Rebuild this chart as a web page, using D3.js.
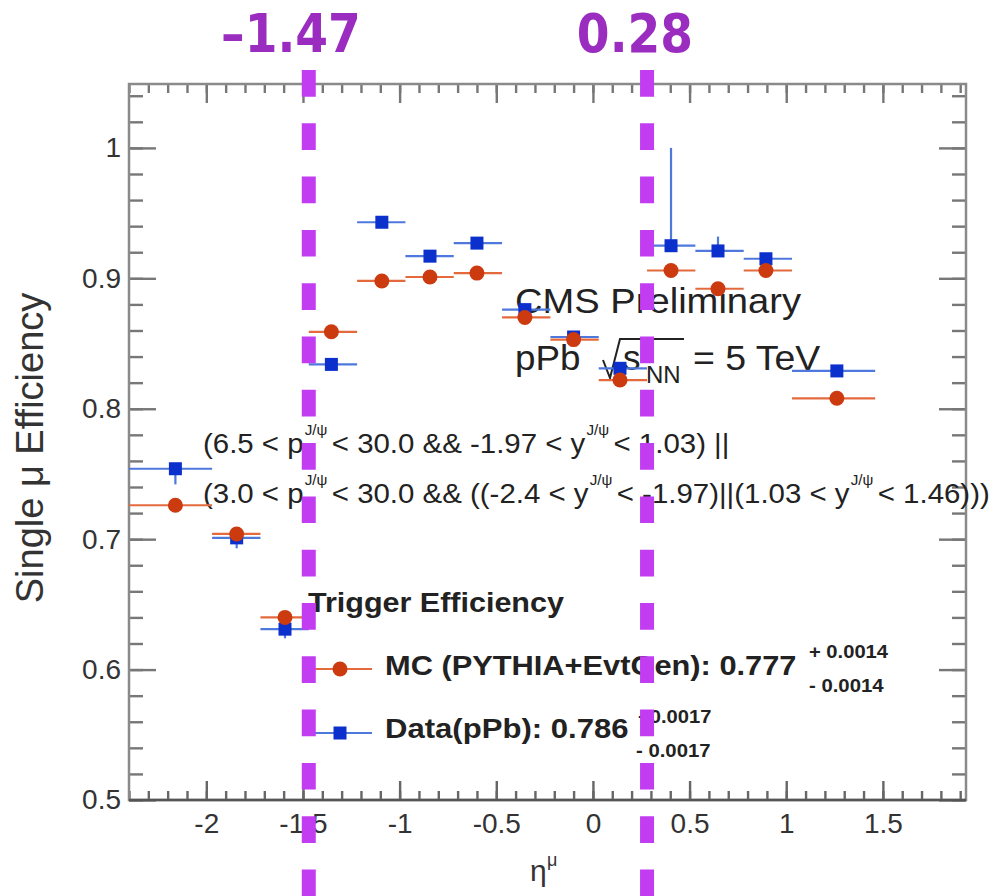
<!DOCTYPE html>
<html><head><meta charset="utf-8">
<script src="https://cdn.jsdelivr.net/npm/d3@7"></script>
<style>
html,body{margin:0;padding:0;background:#fff;}
svg{display:block;}
text{font-family:"Liberation Sans",Arial,Helvetica,sans-serif;white-space:pre;}
</style></head><body>
<svg id="chart" width="990" height="896"></svg>
<script>
// η bins: lower / upper edges and the marker position inside each bin
const etaLow  = [-2.4, -1.97, -1.72, -1.47, -1.22, -0.97, -0.72, -0.47, -0.22, 0.03, 0.28, 0.53, 0.78, 1.03];
const etaHigh = [-1.97, -1.72, -1.47, -1.22, -0.97, -0.72, -0.47, -0.22, 0.03, 0.28, 0.53, 0.78, 1.03, 1.46];
const etaMean = [-2.16, -1.843, -1.593, -1.353, -1.092, -0.843, -0.60, -0.352, -0.10, 0.14, 0.404, 0.647, 0.895, 1.262];

// MC (PYTHIA+EvtGen) single muon efficiency
const mcEff    = [0.726, 0.704, 0.640, 0.859, 0.898, 0.901, 0.904, 0.870, 0.853, 0.822, 0.906, 0.892, 0.906, 0.808];
const mcErr    = [0.003, 0.003, 0.003, 0.002, 0.002, 0.002, 0.002, 0.002, 0.002, 0.002, 0.002, 0.002, 0.002, 0.002];

// pPb data single muon efficiency with asymmetric errors
const dataEff     = [0.754, 0.701, 0.631, 0.834, 0.943, 0.917, 0.927, 0.876, 0.855, 0.831, 0.925, 0.921, 0.915, 0.829];
const dataErrLow  = [0.012, 0.008, 0.007, 0.003, 0.003, 0.003, 0.003, 0.003, 0.003, 0.003, 0.004, 0.004, 0.003, 0.003];
const dataErrHigh = [0.004, 0.004, 0.004, 0.003, 0.003, 0.003, 0.003, 0.003, 0.003, 0.003, 0.075, 0.011, 0.004, 0.003];

// axis ticks
const xMajor = [-2, -1.5, -1, -0.5, 0, 0.5, 1, 1.5];
const xMajorLabels = ["-2", "-1.5", "-1", "-0.5", "0", "0.5", "1", "1.5"];
const xMinor = d3.range(-24, 20).map(i => i / 10);
const yMajor = [0.5, 0.6, 0.7, 0.8, 0.9, 1.0];
const yMajorLabels = ["0.5", "0.6", "0.7", "0.8", "0.9", "1"];
const yMinor = d3.range(25, 53).map(i => i / 50);

// η boundaries marked with dashed lines
const cutEta = [-1.47, 0.28];
const cutLabels = ["\u20131.47", "0.28"];
const cutLabelCenter = [291, 635];

const svg = d3.select("#chart");
const x = d3.scaleLinear().domain([-2.4, 1.93]).range([129, 966]);
const y = d3.scaleLinear().domain([0.5, 1.049]).range([800, 84]);

const RED = "#cc3a10", RED_BAR = "#e46a3e";
const BLUE = "#0b30cc", BLUE_BAR = "#4f78dc";
const INK = "#222";

// ---------- axes ----------
function styleAxis(g, color) {
  g.select(".domain").remove();
  g.selectAll(".tick line").attr("stroke", color).attr("stroke-width", 2.4);
  g.selectAll(".tick text").attr("fill", "#333").style("font-size", "28px")
    .style("font-family", '"Liberation Sans",Arial,sans-serif');
}
const yPos = 800, xLeft = 129, xRight = 966, yTop = 84;

svg.append("g").attr("transform", `translate(0,${yPos})`)
  .call(d3.axisBottom(x).tickValues(xMinor).tickSize(-9).tickFormat(""))
  .call(g => styleAxis(g, "#666"));
svg.append("g").attr("transform", `translate(0,${yPos})`)
  .call(d3.axisBottom(x).tickValues(xMajor).tickSize(-19).tickPadding(13)
        .tickFormat((d, i) => xMajorLabels[i]))
  .call(g => styleAxis(g, "#666"));
svg.append("g").attr("transform", `translate(0,${yTop})`)
  .call(d3.axisTop(x).tickValues(xMinor).tickSize(-9).tickFormat(""))
  .call(g => styleAxis(g, "#777"));
svg.append("g").attr("transform", `translate(0,${yTop})`)
  .call(d3.axisTop(x).tickValues(xMajor).tickSize(-19).tickFormat(""))
  .call(g => styleAxis(g, "#777"));

svg.append("g").attr("transform", `translate(${xLeft},0)`)
  .call(d3.axisLeft(y).tickValues(yMinor).tickSize(-14).tickFormat(""))
  .call(g => styleAxis(g, "#777"));
svg.append("g").attr("transform", `translate(${xLeft},0)`)
  .call(d3.axisLeft(y).tickValues(yMajor).tickSize(-27).tickPadding(8)
        .tickFormat((d, i) => yMajorLabels[i]))
  .call(g => styleAxis(g, "#777"));
svg.append("g").attr("transform", `translate(${xRight},0)`)
  .call(d3.axisRight(y).tickValues(yMinor).tickSize(-14).tickFormat(""))
  .call(g => styleAxis(g, "#777"));
svg.append("g").attr("transform", `translate(${xRight},0)`)
  .call(d3.axisRight(y).tickValues(yMajor).tickSize(-27).tickFormat(""))
  .call(g => styleAxis(g, "#777"));

// frame
svg.append("rect").attr("x", xLeft).attr("y", yTop)
  .attr("width", xRight - xLeft).attr("height", yPos - yTop)
  .attr("fill", "none").attr("stroke", "#8a8a8a").attr("stroke-width", 2.5);
svg.append("line").attr("x1", xLeft).attr("x2", xRight).attr("y1", yPos).attr("y2", yPos)
  .attr("stroke", "#555").attr("stroke-width", 2.5);

// axis titles
svg.append("text").attr("transform", "translate(43,448) rotate(-90)")
  .attr("text-anchor", "middle").attr("fill", "#333").style("font-size", "38px")
  .text("Single \u03bc Efficiency");
svg.append("text").attr("x", 530).attr("y", 881).attr("fill", "#333").style("font-size", "30px").text("\u03b7");
svg.append("text").attr("x", 547).attr("y", 866).attr("fill", "#333").style("font-size", "18px").text("\u03bc");

// ---------- text helpers ----------
function label(x0, y0, txt, o) {
  const g = svg.append("g").attr("transform", `translate(${x0},${y0}) scale(${o.sx || 1},1)`);
  return g.append("text").attr("fill", o.fill || INK)
    .attr("text-anchor", o.anchor || "start")
    .style("font-size", o.size + "px").style("font-weight", o.weight || "normal")
    .text(txt);
}
// runs of text with stacked super/subscripts
function rich(x0, y0, parts, o) {
  const g = svg.append("g").attr("transform", `translate(${x0},${y0}) scale(${o.sx || 1},1)`)
    .attr("fill", o.fill || INK).style("font-size", o.size + "px");
  let cx = 0;
  parts.forEach(p => {
    if (typeof p === "string") {
      const t = g.append("text").attr("x", cx).attr("y", 0).text(p);
      cx += t.node().getComputedTextLength();
    } else {
      let w = 0;
      if (p.sup) {
        const t = g.append("text").attr("x", cx + 1).attr("y", -p.raise).style("font-size", p.size + "px").text(p.sup);
        w = Math.max(w, t.node().getComputedTextLength() + 1);
      }
      if (p.sub) {
        const t = g.append("text").attr("x", cx + 1).attr("y", p.drop).style("font-size", p.size + "px").text(p.sub);
        w = Math.max(w, t.node().getComputedTextLength() + 1);
      }
      cx += w + 4;
    }
  });
}

// kinematic selection
const jpsiPT = { sup: "J/\u03c8", sub: "T", raise: 18, drop: 8, size: 14 };
const jpsiY = { sup: "J/\u03c8", raise: 18, size: 14 };
rich(203, 453, ["(6.5 < p", jpsiPT, "< 30.0 && -1.97 < y", jpsiY, "< 1.03) ||"], { size: 27, sx: 1.09 });
rich(203, 503, ["(3.0 < p", jpsiPT, "< 30.0 && ((-2.4 < y", jpsiY, "< -1.97)||(1.03 < y", jpsiY, "< 1.46)))"], { size: 27, sx: 1.09 });

// experiment label
label(515, 313, "CMS Preliminary", { size: 35, sx: 1.09 });
label(515, 370, "pPb", { size: 35, sx: 1.05 });
svg.append("path").attr("d", "M603,360 L610,378 L620,339 L684,339")
  .attr("fill", "none").attr("stroke", INK).attr("stroke-width", 2);
label(623, 370, "s", { size: 35 });
label(646, 383, "NN", { size: 24 });
label(693, 370, "= 5 TeV", { size: 35, sx: 1.07 });

// legend
label(308, 612, "Trigger Efficiency", { size: 28, weight: "bold", sx: 1.09 });
label(385, 675, "MC (PYTHIA+EvtGen): 0.777", { size: 28, weight: "bold", sx: 1.10 });
label(809, 658, "+ 0.0014", { size: 18, weight: "bold", sx: 1.12 });
label(809, 692, "- 0.0014", { size: 18, weight: "bold", sx: 1.13 });
label(385, 738, "Data(pPb): 0.786", { size: 28, weight: "bold", sx: 1.11 });
label(638, 723, "+0.0017", { size: 18, weight: "bold", sx: 1.12 });
label(636, 757, "- 0.0017", { size: 18, weight: "bold", sx: 1.13 });

svg.append("line").attr("x1", 313).attr("x2", 372).attr("y1", 669).attr("y2", 669)
  .attr("stroke", RED_BAR).attr("stroke-width", 2.2);
svg.append("circle").attr("cx", 340).attr("cy", 669).attr("r", 7.5).attr("fill", RED);
svg.append("line").attr("x1", 313).attr("x2", 372).attr("y1", 733).attr("y2", 733)
  .attr("stroke", BLUE_BAR).attr("stroke-width", 2.2);
svg.append("rect").attr("x", 333.5).attr("y", 726.5).attr("width", 13).attr("height", 13).attr("fill", BLUE);

// ---------- data ----------
const idx = d3.range(etaMean.length);
const dataG = svg.append("g");
dataG.selectAll(".dh").data(idx).join("line")
  .attr("x1", i => x(etaLow[i])).attr("x2", i => x(etaHigh[i]))
  .attr("y1", i => y(dataEff[i])).attr("y2", i => y(dataEff[i]))
  .attr("stroke", BLUE_BAR).attr("stroke-width", 2.2);
dataG.selectAll(".dv").data(idx).join("line")
  .attr("x1", i => x(etaMean[i])).attr("x2", i => x(etaMean[i]))
  .attr("y1", i => y(dataEff[i] - dataErrLow[i])).attr("y2", i => y(dataEff[i] + dataErrHigh[i]))
  .attr("stroke", BLUE_BAR).attr("stroke-width", 2.2);
dataG.selectAll(".dm").data(idx).join("rect")
  .attr("x", i => x(etaMean[i]) - 6.5).attr("y", i => y(dataEff[i]) - 6.5)
  .attr("width", 13).attr("height", 13).attr("fill", BLUE);

const mcG = svg.append("g");
mcG.selectAll(".mh").data(idx).join("line")
  .attr("x1", i => x(etaLow[i])).attr("x2", i => x(etaHigh[i]))
  .attr("y1", i => y(mcEff[i])).attr("y2", i => y(mcEff[i]))
  .attr("stroke", RED_BAR).attr("stroke-width", 2.2);
mcG.selectAll(".mv").data(idx).join("line")
  .attr("x1", i => x(etaMean[i])).attr("x2", i => x(etaMean[i]))
  .attr("y1", i => y(mcEff[i] - mcErr[i])).attr("y2", i => y(mcEff[i] + mcErr[i]))
  .attr("stroke", RED_BAR).attr("stroke-width", 2.2);
mcG.selectAll(".mm").data(idx).join("circle")
  .attr("cx", i => x(etaMean[i])).attr("cy", i => y(mcEff[i]))
  .attr("r", 7.5).attr("fill", RED);

// ---------- η boundaries ----------
svg.selectAll(".cut").data(cutEta).join("line")
  .attr("x1", d => x(d)).attr("x2", d => x(d)).attr("y1", 70).attr("y2", 896)
  .attr("stroke", "#c23df2").attr("stroke-width", 14).attr("stroke-dasharray", "26.7 26.6");
cutLabels.forEach((t, i) => {
  svg.append("g").attr("transform", `translate(${cutLabelCenter[i]},52) scale(0.97,1)`)
    .append("text").attr("text-anchor", "middle").attr("fill", "#9a2cbf")
    .style("font-family", '"DejaVu Sans Condensed","DejaVu Sans",sans-serif')
    .style("font-stretch", "condensed").style("font-weight", "bold").style("font-size", "54px")
    .text(t);
});
</script>
</body></html>
